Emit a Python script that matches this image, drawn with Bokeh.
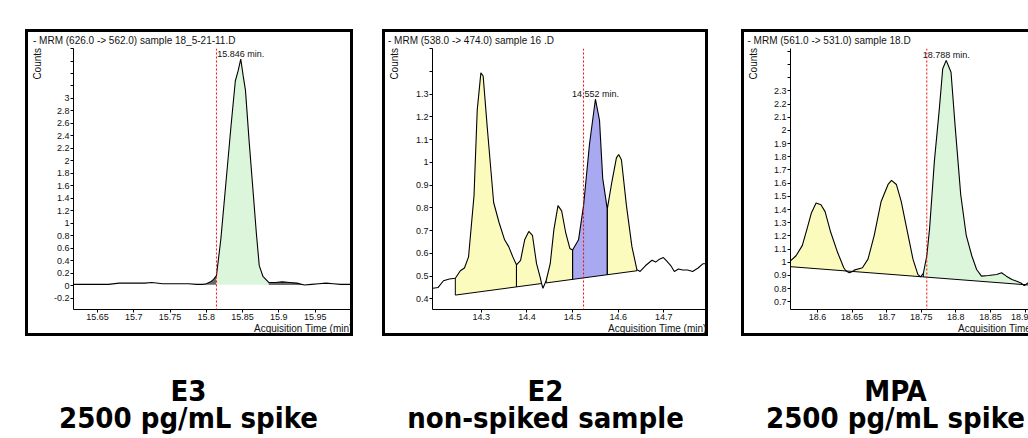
import numpy as np
from bokeh.plotting import figure
from bokeh.layouts import row, column
from bokeh.models import FixedTicker, Span, Label, Title, Spacer, LinearAxis
from bokeh.embed import file_html
from bokeh.resources import INLINE

# ---------------- data ----------------
titles = ["- MRM (626.0 -> 562.0) sample 18_5-21-11.D",
          "- MRM (538.0 -> 474.0) sample 16 .D",
          "- MRM (561.0 -> 531.0) sample 18.D"]
captions_top = ["E3", "E2", "MPA"]
captions_bottom = ["2500 pg/mL spike", "non-spiked sample", "2500 pg/mL spike"]
y_axis_label = "Counts"
x_axis_label = "Acquisition Time (min)"

# Panel 1 : E3
t1 = [15.617, 15.630, 15.650, 15.665, 15.680, 15.700, 15.715, 15.725, 15.740, 15.760,
      15.775, 15.787, 15.795, 15.800, 15.806, 15.810, 15.814, 15.820, 15.827, 15.834,
      15.840, 15.844, 15.8475, 15.851, 15.854, 15.859, 15.864, 15.869, 15.873, 15.878,
      15.886, 15.895, 15.905, 15.915, 15.925, 15.935, 15.945, 15.955, 15.965, 15.975,
      15.985, 15.995, 16.008]
y1 = [0.02, 0.02, 0.02, 0.02, 0.04, 0.04, 0.04, 0.05, 0.03, 0.03,
      0.03, 0.02, 0.02, 0.03, 0.06, 0.10, 0.16, 0.74, 1.64, 2.55,
      3.28, 3.45, 3.63, 3.35, 3.13, 2.32, 1.58, 0.84, 0.32, 0.15,
      0.05, 0.05, 0.06, 0.05, 0.04, 0.01, 0.02, 0.03, 0.04, 0.03,
      0.02, 0.02, 0.02]
p1_marker = 15.814
p1_apex = (15.8475, 3.63)
p1_apex_label = "15.846 min."
p1_baseline = [(15.787, 0.015), (15.935, 0.010)]
p1_segments = [(15.787, 15.814, "other"), (15.814, 15.886, "target"), (15.886, 15.935, "other")]
p1_xticks = [15.65, 15.7, 15.75, 15.8, 15.85, 15.9, 15.95, 16.0]
p1_xlabels = ["15.65", "15.7", "15.75", "15.8", "15.85", "15.9", "15.95", ""]
p1_yticks = [-0.2, 0.0, 0.2, 0.4, 0.6, 0.8, 1.0, 1.2, 1.4, 1.6, 1.8, 2.0, 2.2, 2.4, 2.6,
             2.8, 3.0, 3.2, 3.4, 3.6, 3.8]
p1_ylabels = ["-0.2", "0", "0.2", "0.4", "0.6", "0.8", "1", "1.2", "1.4", "1.6", "1.8",
              "2", "2.2", "2.4", "2.6", "2.8", "3", "", "", "", ""]

# Panel 2 : E2
t2 = [14.194, 14.205, 14.217, 14.230, 14.243, 14.254, 14.263, 14.272, 14.284, 14.291,
      14.299, 14.304, 14.313, 14.327, 14.339, 14.351, 14.360, 14.369, 14.377, 14.386,
      14.395, 14.404, 14.412, 14.421, 14.429, 14.432, 14.435, 14.442, 14.451, 14.459,
      14.468, 14.476, 14.485, 14.494, 14.500, 14.513, 14.524, 14.537, 14.550, 14.559,
      14.566, 14.576, 14.586, 14.596, 14.601, 14.607, 14.618, 14.630, 14.641, 14.648,
      14.660, 14.674, 14.682, 14.689, 14.699, 14.706, 14.715, 14.723, 14.732, 14.741,
      14.752, 14.763, 14.775, 14.786, 14.793, 14.800]
y2 = [0.447, 0.450, 0.480, 0.488, 0.491, 0.524, 0.536, 0.585, 0.855, 1.230,
      1.394, 1.380, 1.154, 0.824, 0.735, 0.660, 0.630, 0.585, 0.550, 0.570,
      0.660, 0.697, 0.680, 0.555, 0.495, 0.468, 0.447, 0.480, 0.555, 0.705,
      0.810, 0.787, 0.690, 0.622, 0.615, 0.660, 0.810, 1.080, 1.278, 1.185,
      0.930, 0.795, 0.914, 1.020, 1.035, 1.012, 0.810, 0.630, 0.528, 0.521,
      0.547, 0.570, 0.562, 0.573, 0.582, 0.567, 0.547, 0.521, 0.532, 0.527,
      0.527, 0.521, 0.536, 0.555, 0.555, 0.570]
p2_marker = 14.524
p2_apex = (14.550, 1.278)
p2_apex_label = "14.552 min."
p2_baseline = [(14.243, 0.417), (14.641, 0.524)]
p2_segments = [(14.243, 14.377, "other"), (14.377, 14.432, "other"), (14.442, 14.500, "other"),
               (14.500, 14.576, "target"), (14.576, 14.641, "other")]
p2_baseline_pieces = [(14.243, 14.432), (14.442, 14.641)]
p2_xticks = [14.3, 14.4, 14.5, 14.6, 14.7]
p2_xlabels = ["14.3", "14.4", "14.5", "14.6", "14.7"]
p2_yticks = [0.4, 0.5, 0.6, 0.7, 0.8, 0.9, 1.0, 1.1, 1.2, 1.3, 1.4, 1.5]
p2_ylabels = ["0.4", "0.5", "0.6", "0.7", "0.8", "0.9", "1", "1.1", "1.2", "1.3", "", ""]

# Panel 3 : MPA
t3 = [18.561, 18.569, 18.578, 18.585, 18.591, 18.598, 18.605, 18.611, 18.619, 18.629,
      18.638, 18.641, 18.646, 18.650, 18.653, 18.665, 18.673, 18.682, 18.692, 18.702,
      18.707, 18.714, 18.721, 18.731, 18.738, 18.745, 18.749, 18.753, 18.758, 18.762,
      18.769, 18.776, 18.781, 18.786, 18.793, 18.799, 18.807, 18.815, 18.823, 18.830,
      18.837, 18.847, 18.859, 18.866, 18.873, 18.881, 18.888, 18.894, 18.899, 18.904,
      18.909]
y3 = [1.010, 1.049, 1.126, 1.255, 1.371, 1.449, 1.436, 1.384, 1.229, 1.075,
      0.958, 0.935, 0.920, 0.928, 0.940, 0.958, 1.023, 1.204, 1.461, 1.590,
      1.621, 1.590, 1.461, 1.204, 1.023, 0.907, 0.889, 0.915, 1.049, 1.255,
      1.771, 2.158, 2.468, 2.532, 2.442, 2.029, 1.513, 1.203, 1.049, 0.945,
      0.894, 0.899, 0.907, 0.920, 0.894, 0.868, 0.855, 0.842, 0.822, 0.842,
      0.855]
p3_marker = 18.758
p3_apex = (18.786, 2.532)
p3_apex_label = "18.788 min."
p3_baseline = [(18.561, 0.966), (18.900, 0.829)]
p3_segments = [(18.561, 18.641, "other"), (18.650, 18.749, "other"), (18.753, 18.899, "target"),
               (18.899, 18.909, "other")]
p3_baseline_pieces = [(18.561, 18.909)]
p3_xticks = [18.6, 18.65, 18.7, 18.75, 18.8, 18.85, 18.9]
p3_xlabels = ["18.6", "18.65", "18.7", "18.75", "18.8", "18.85", "18.9"]
p3_yticks = [0.7, 0.8, 0.9, 1.0, 1.1, 1.2, 1.3, 1.4, 1.5, 1.6, 1.7, 1.8, 1.9, 2.0, 2.1,
             2.2, 2.3, 2.4, 2.5, 2.6]
p3_ylabels = ["0.7", "0.8", "0.9", "1", "1.1", "1.2", "1.3", "1.4", "1.5", "1.6", "1.7",
              "1.8", "1.9", "2", "2.1", "2.2", "2.3", "", "", ""]

# ---------------- layout / style ----------------
SMALL_FONT = "Liberation Sans"
BIG_FONT = "DejaVu Sans Condensed, Liberation Sans, sans-serif"
YELLOW = "#fbfbbe"
BLUE = "#a9a9f2"
GREEN = "#dcf6dc"
GRAY = "#6a6a6a"
INK = "#111111"
BORDER = "3px solid black"
BOX = {"box-sizing": "content-box"}
HAS_LABEL_ALIGN = "axis_label_align" in LinearAxis.properties()
# the axis label is centred on the top end of the axis: non-breaking spaces after
# the word push the visible word down so that it starts at the top of the axis
COUNTS_PAD = "\u00a0" * 11

panels = [
    dict(t=t1, y=y1, marker=p1_marker, apex=p1_apex, apex_label=p1_apex_label,
         baseline=p1_baseline, segments=p1_segments, baseline_pieces=[],
         xticks=p1_xticks, xlabels=p1_xlabels, yticks=p1_yticks, ylabels=p1_ylabels,
         xr=(15.617, 16.007), yr=(-0.383, 3.801), target=GREEN, other=GRAY,
         W=322, H=301, mb=(41, 0, 15, 28), title_off=-40.5, counts_standoff=8,
         counts_off=-1, acq_off=4, styles=dict(BOX, border=BORDER)),
    dict(t=t2, y=y2, marker=p2_marker, apex=p2_apex, apex_label=p2_apex_label,
         baseline=p2_baseline, segments=p2_segments, baseline_pieces=p2_baseline_pieces,
         xticks=p2_xticks, xlabels=p2_xlabels, yticks=p2_yticks, ylabels=p2_ylabels,
         xr=(14.193, 14.800), yr=(0.3536, 1.501), target=BLUE, other=YELLOW,
         W=320, H=301, mb=(46, 2, 16, 30), title_off=-44.5, counts_standoff=13,
         counts_off=2, acq_off=3, styles=dict(BOX, border=BORDER)),
    dict(t=t3, y=y3, marker=p3_marker, apex=p3_apex, apex_label=p3_apex_label,
         baseline=p3_baseline, segments=p3_segments, baseline_pieces=p3_baseline_pieces,
         xticks=p3_xticks, xlabels=p3_xlabels, yticks=p3_yticks, ylabels=p3_ylabels,
         xr=(18.561, 18.9093), yr=(0.641, 2.622), target=GREEN, other=YELLOW,
         W=284, H=301, mb=(44, 0, 16, 29), title_off=-43, counts_standoff=12,
         counts_off=2, acq_off=-25,
         styles=dict(BOX, **{"border-left": BORDER, "border-top": BORDER,
                             "border-bottom": BORDER})),
]


def make_panel(i, cfg):
    mbl, mbr, mbt, mbb = cfg["mb"]
    p = figure(width=cfg["W"], height=cfg["H"], x_range=cfg["xr"], y_range=cfg["yr"],
               output_backend="svg", toolbar_location=None,
               min_border_left=mbl, min_border_right=mbr,
               min_border_top=mbt, min_border_bottom=mbb, styles=cfg["styles"])
    p.xgrid.visible = False
    p.ygrid.visible = False
    p.outline_line_color = None
    p.background_fill_color = "white"
    p.border_fill_color = "white"

    for ax, ticks, labels in ((p.xaxis, cfg["xticks"], cfg["xlabels"]),
                              (p.yaxis, cfg["yticks"], cfg["ylabels"])):
        ax.ticker = FixedTicker(ticks=ticks)
        ax.major_label_overrides = {t: l for t, l in zip(ticks, labels)}
        ax.axis_line_color = "black"
        ax.axis_line_width = 1
        ax.major_tick_line_color = "black"
        ax.major_tick_in = 0
        ax.major_tick_out = 3
        ax.minor_tick_line_color = None
        ax.major_label_text_font = SMALL_FONT
        ax.major_label_text_font_size = "9px"
        ax.major_label_text_color = INK
    p.xaxis.major_label_standoff = 1
    p.yaxis.major_label_standoff = 1

    # chromatogram title (top-left inside the box)
    p.title.text = titles[i]
    p.title.align = "left"
    p.title.vertical_align = "top"
    p.title.offset = cfg["title_off"]
    p.title.standoff = 2
    p.title.text_font = SMALL_FONT
    p.title.text_font_size = "10px"
    p.title.text_font_style = "normal"
    p.title.text_color = INK

    # "Counts" at the top of the y axis
    if HAS_LABEL_ALIGN:
        p.yaxis.axis_label = y_axis_label + COUNTS_PAD
        p.yaxis.axis_label_align = "end"
        p.yaxis.axis_label_standoff = cfg["counts_standoff"]
        p.yaxis.axis_label_text_font = SMALL_FONT
        p.yaxis.axis_label_text_font_size = "10px"
        p.yaxis.axis_label_text_font_style = "normal"
        p.yaxis.axis_label_text_color = INK
    else:
        p.add_layout(Title(text=y_axis_label, align="right", offset=cfg["counts_off"],
                           standoff=0, text_font=SMALL_FONT, text_font_size="10px",
                           text_font_style="normal", text_color=INK), "left")
    # "Acquisition Time (min)" at the lower right
    p.add_layout(Title(text=x_axis_label, align="right", vertical_align="top",
                       offset=cfg["acq_off"], standoff=0,
                       text_font=SMALL_FONT, text_font_size="10px",
                       text_font_style="normal", text_color=INK), "below")

    t = np.array(cfg["t"])
    y = np.array(cfg["y"])
    (b0t, b0y), (b1t, b1y) = cfg["baseline"]

    def base(tt):
        return b0y + (b1y - b0y) * (np.asarray(tt) - b0t) / (b1t - b0t)

    # integrated peak areas
    for (a, b, kind) in cfg["segments"]:
        m = (t >= a - 1e-9) & (t <= b + 1e-9)
        col = cfg["target"] if kind == "target" else cfg["other"]
        p.varea(x=t[m], y1=base(t[m]), y2=y[m], fill_color=col, fill_alpha=1.0)
    # peak dividers and integration baselines
    if cfg["baseline_pieces"]:
        for (a, b, kind) in cfg["segments"]:
            for edge in (a, b):
                k = int(np.argmin(np.abs(t - edge)))
                p.segment(x0=[t[k]], y0=[float(base(t[k]))], x1=[t[k]], y1=[y[k]],
                          line_color="black", line_width=1)
        for (a, b) in cfg["baseline_pieces"]:
            p.line(x=[a, b], y=[float(base(a)), float(base(b))], line_color="black", line_width=1)

    # chromatogram trace
    p.line(x=t, y=y, line_color="black", line_width=1.1)

    # retention time marker + apex label
    p.add_layout(Span(location=cfg["marker"], dimension="height", line_color="#ff0000",
                      line_dash="2 2", line_width=1, level="overlay"))
    p.add_layout(Label(x=cfg["apex"][0], y=cfg["apex"][1], text=cfg["apex_label"],
                       text_align="center", text_baseline="bottom",
                       text_font=SMALL_FONT, text_font_size="9px", text_color=INK))
    return p


figs = [make_panel(i, c) for i, c in enumerate(panels)]

# caption strip below the boxes (page y 336 .. 438)
CAP_TOP = 336
CAP_SHIFT = 12
cap_x = [188, 545, 895]
cap = figure(width=1028, height=102, x_range=(0, 1), y_range=(0, 1),
             output_backend="svg", toolbar_location=None,
             min_border_left=0, min_border_right=0, min_border_top=0, min_border_bottom=0)
cap.xaxis.visible = False
cap.yaxis.visible = False
cap.xgrid.visible = False
cap.ygrid.visible = False
cap.outline_line_color = None
cap.background_fill_color = "white"
cap.border_fill_color = "white"
for i in range(3):
    cap.add_layout(Label(x=cap_x[i], y=402 - CAP_TOP - CAP_SHIFT, x_units="canvas",
                         y_units="canvas", text=captions_top[i], text_align="center",
                         text_baseline="alphabetic", text_font=BIG_FONT,
                         text_font_size="29px", text_font_style="bold", text_color="black"))
    cap.add_layout(Label(x=cap_x[i], y=429 - CAP_TOP - CAP_SHIFT, x_units="canvas",
                         y_units="canvas", text=captions_bottom[i], text_align="center",
                         text_baseline="alphabetic", text_font=BIG_FONT,
                         text_font_size="29px", text_font_style="bold", text_color="black"))

top_row = row(Spacer(width=25), figs[0], Spacer(width=29), figs[1], Spacer(width=33), figs[2],
              spacing=0)
layout = column(Spacer(height=29), top_row, cap, spacing=0)
open("out.html", "w").write(file_html(layout, INLINE))
